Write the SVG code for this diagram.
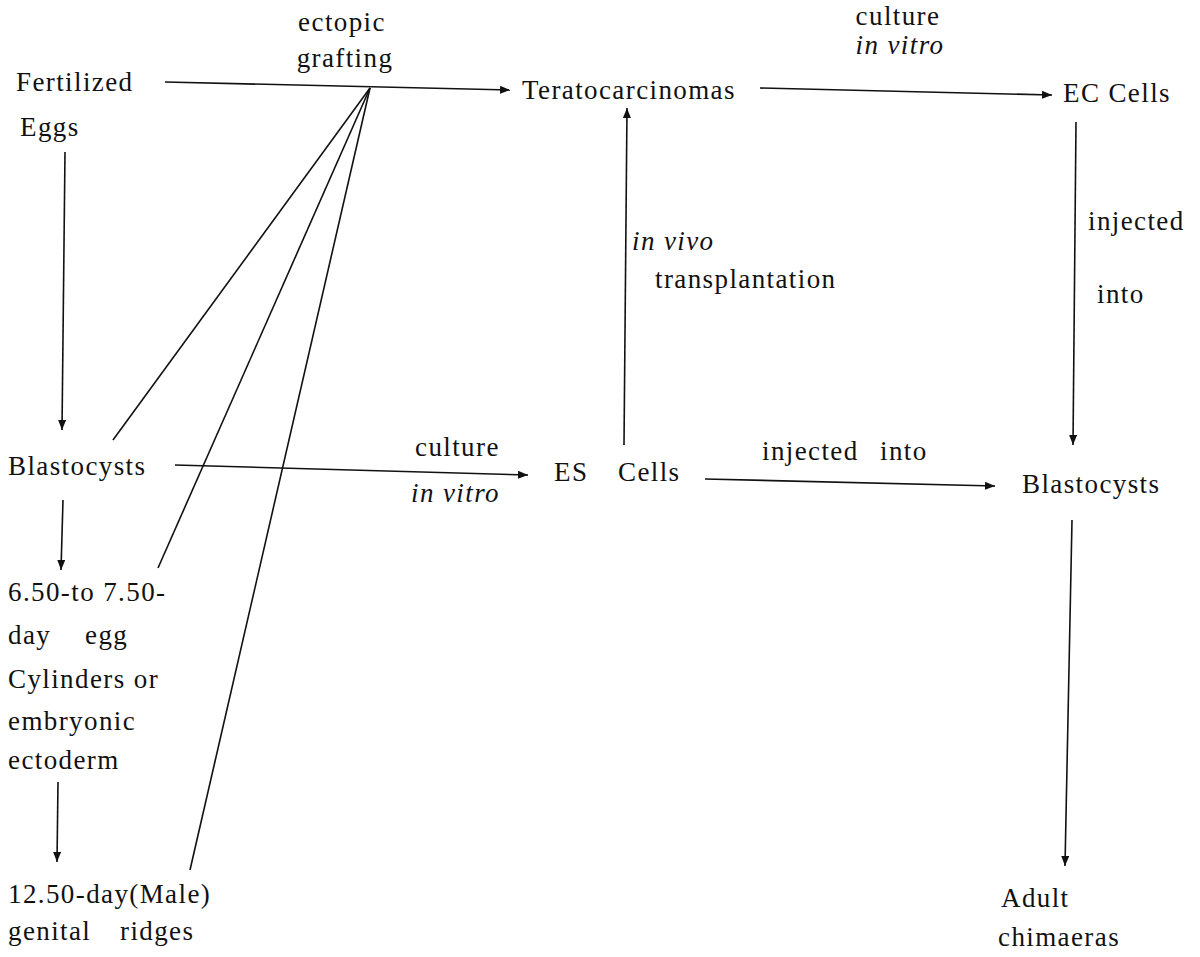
<svg xmlns="http://www.w3.org/2000/svg" width="1200" height="957" viewBox="0 0 1200 957">
<style>
text{font-family:"Liberation Serif","Times New Roman",serif;font-size:27px;letter-spacing:1.4px;fill:#111}
.it{font-style:italic}
.ln{stroke:#111;stroke-width:1.6;fill:none}
</style>
<defs>
<marker id="ah" viewBox="0 0 10 8" refX="10" refY="4" markerWidth="10" markerHeight="8" markerUnits="userSpaceOnUse" orient="auto">
<path d="M0,0 L10,4 L0,8 Z" fill="#111"/>
</marker>
</defs>
<rect width="1200" height="957" fill="#fff"/>
<g id="connectors">
<line class="ln" x1="165" y1="82" x2="510" y2="90" marker-end="url(#ah)"/>
<line class="ln" x1="760" y1="88" x2="1052" y2="95" marker-end="url(#ah)"/>
<line class="ln" x1="1076" y1="122" x2="1073" y2="445" marker-end="url(#ah)"/>
<line class="ln" x1="624" y1="445" x2="627" y2="108" marker-end="url(#ah)"/>
<line class="ln" x1="175" y1="465" x2="528" y2="475" marker-end="url(#ah)"/>
<line class="ln" x1="705" y1="479" x2="995" y2="486" marker-end="url(#ah)"/>
<line class="ln" x1="1072" y1="520" x2="1065" y2="866" marker-end="url(#ah)"/>
<line class="ln" x1="65" y1="152" x2="62" y2="430" marker-end="url(#ah)"/>
<line class="ln" x1="63" y1="500" x2="61" y2="570" marker-end="url(#ah)"/>
<line class="ln" x1="58" y1="782" x2="57" y2="862" marker-end="url(#ah)"/>
<line class="ln" x1="370" y1="88" x2="113" y2="440"/>
<line class="ln" x1="370" y1="88" x2="158" y2="568"/>
<line class="ln" x1="370" y1="88" x2="190" y2="870"/>
</g>
<g id="label-ectopic">
<text x="342" y="31" text-anchor="middle">ectopic</text>
<text x="345" y="67" text-anchor="middle">grafting</text>
</g>
<g id="node-fertilized">
<text x="16" y="91">Fertilized</text>
<text x="20" y="136">Eggs</text>
</g>
<g id="node-terato">
<text x="522" y="99">Teratocarcinomas</text>
</g>
<g id="label-culture-top">
<text x="898" y="25" text-anchor="middle">culture</text>
<text x="900" y="54" text-anchor="middle" class="it">in vitro</text>
</g>
<g id="node-ec">
<text x="1063" y="102">EC Cells</text>
</g>
<g id="label-injected-right">
<text x="1088" y="230">injected</text>
<text x="1097" y="303">into</text>
</g>
<g id="label-invivo">
<text x="632" y="250" class="it">in vivo</text>
<text x="655" y="288">transplantation</text>
</g>
<g id="node-blasto-left">
<text x="8" y="475">Blastocysts</text>
</g>
<g id="label-culture-mid">
<text x="415" y="456">culture</text>
<text x="411" y="502" class="it">in vitro</text>
</g>
<g id="node-es">
<text x="554" y="481">ES</text>
<text x="618" y="481">Cells</text>
</g>
<g id="label-injected-mid">
<text x="762" y="460">injected</text>
<text x="880" y="460">into</text>
</g>
<g id="node-blasto-right">
<text x="1022" y="493">Blastocysts</text>
</g>
<g id="node-egg-cylinders">
<text x="8" y="601">6.50-to 7.50-</text>
<text x="8" y="644">day</text>
<text x="85" y="644">egg</text>
<text x="8" y="688">Cylinders or</text>
<text x="8" y="730">embryonic</text>
<text x="8" y="769">ectoderm</text>
</g>
<g id="node-genital">
<text x="8" y="903">12.50-day(Male)</text>
<text x="8" y="940">genital</text>
<text x="120" y="940">ridges</text>
</g>
<g id="node-adult">
<text x="1001" y="907">Adult</text>
<text x="998" y="946">chimaeras</text>
</g>
</svg>
